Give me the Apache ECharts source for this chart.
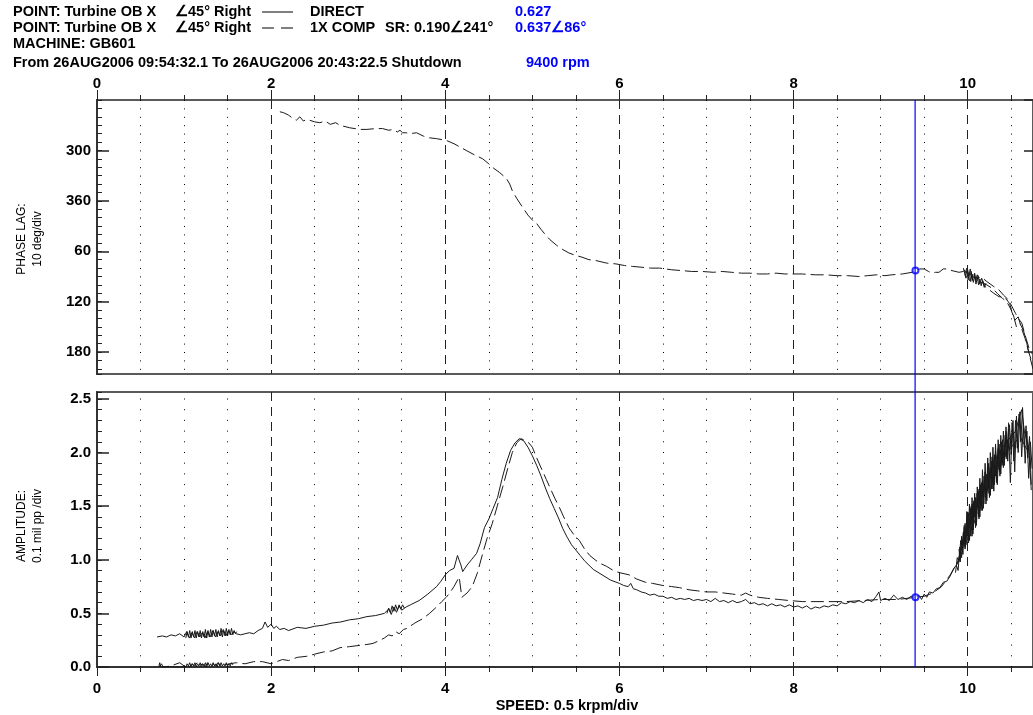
<!DOCTYPE html>
<html><head><meta charset="utf-8">
<script src="https://cdn.jsdelivr.net/npm/echarts@6/dist/echarts.min.js"></script>
<style>html,body{margin:0;padding:0;background:#fff}#c{width:1033px;height:715px}</style>
</head><body><div id="c"></div>
<script>
// ---------- data ----------
const speedMajorTicks = [0, 2, 4, 6, 8, 10];
const speedMinorLines = [0.5,1,1.5,2.5,3,3.5,4.5,5,5.5,6.5,7,7.5,8.5,9,9.5,10.5];
const phaseTickValues = [300, 360, 420, 480, 540];
const phaseTickLabels = ['300', '360', '60', '120', '180'];
const ampTickValues = [0, 0.5, 1.0, 1.5, 2.0, 2.5];
const ampTickLabels = ['0.0', '0.5', '1.0', '1.5', '2.0', '2.5'];

const cursorSpeed = 9.4;
const cursorPhase = 443;
const cursorAmp = 0.65;

// 1X COMP phase lag (deg, unwrapped) vs speed (krpm)
const phaseComp = [
[2.10,254],[2.14,255],[2.20,258],[2.25,262],[2.29,264],[2.33,260],[2.37,265],[2.41,263],[2.50,266],[2.56,267],[2.62,265],[2.68,269],[2.74,267],[2.79,270],[2.90,273],[3.02,275],[3.10,275],[3.20,274],[3.28,274],[3.35,276],[3.40,275],[3.45,278],[3.48,276],[3.51,279],[3.55,279],[3.60,280],[3.67,279],[3.75,283],[3.82,285],[3.90,286],[4.01,288],[4.10,292],[4.17,296],[4.24,300],[4.33,305],[4.43,310],[4.50,316],[4.54,320],[4.62,326],[4.70,333],[4.74,340],[4.77,348],[4.82,357],[4.89,368],[4.95,377],[5.01,384],[5.05,387],[5.10,394],[5.14,399],[5.20,406],[5.28,413],[5.35,418],[5.42,422],[5.50,425],[5.57,427],[5.65,430],[5.73,431],[5.85,434],[5.96,435],[6.06,437],[6.15,438],[6.26,439],[6.36,440],[6.46,440],[6.60,442],[6.72,443],[6.83,444],[6.95,444],[7.08,445],[7.18,444],[7.29,445],[7.40,446],[7.50,446],[7.60,447],[7.70,447],[7.80,446],[7.90,447],[7.98,447],[8.10,447],[8.25,448],[8.37,448],[8.50,449],[8.62,449],[8.75,450],[8.85,449],[8.95,448],[9.05,449],[9.13,448],[9.25,447],[9.36,445],[9.40,443],[9.45,441],[9.50,441],[9.55,444],[9.59,446],[9.63,445],[9.67,445],[9.72,441],[9.76,441],[9.82,443],[9.90,445],[9.95,444],[10.01,446],[10.05,450],[10.10,452],[10.16,451],[10.22,456],[10.30,462],[10.36,466],[10.41,472],[10.47,478],[10.51,486],[10.55,494],[10.58,500],[10.62,505],[10.66,520],[10.70,534],[10.74,542]
];
const phaseBurstA = [
[9.95,440],[9.98,452],[10.00,442],[10.02,455],[10.04,444],[10.06,456],[10.08,446],[10.10,458],[10.12,449],[10.14,460],[10.16,452],[10.20,462],[10.25,466],[10.30,470],[10.36,474],[10.43,475],[10.48,482],[10.53,498],[10.56,510],[10.60,506],[10.64,514],[10.68,530],[10.72,548],[10.75,560]
];
const phaseBurstB = [
[9.97,446],[9.99,440],[10.01,450],[10.03,441],[10.05,452],[10.07,447],[10.09,454],[10.11,448],[10.14,456],[10.18,458],[10.22,460],[10.28,464],[10.34,470],[10.40,476],[10.45,480],[10.50,490],[10.54,502],[10.58,498],[10.62,512],[10.66,524],[10.70,540],[10.74,552]
];
const phaseBurstC = [
[9.96,442],[9.975,450],[9.99,443],[10.005,454],[10.02,445],[10.035,456],[10.05,447],[10.065,457],[10.08,449],[10.095,459],[10.11,451],[10.125,460],[10.14,453],[10.155,461],[10.17,455],[10.19,463],[10.21,458]
];

// DIRECT amplitude (mil pp) vs speed
const ampDirect = [
[0.69,0.28],[0.75,0.29],[0.80,0.28],[0.85,0.30],[0.90,0.29],[0.95,0.31],[1.00,0.28],[1.03,0.33],[1.06,0.27],[1.09,0.32],[1.12,0.27],[1.15,0.33],[1.18,0.28],[1.21,0.32],[1.24,0.27],[1.27,0.33],[1.30,0.28],[1.33,0.34],[1.36,0.28],[1.39,0.33],[1.42,0.29],[1.45,0.35],[1.48,0.29],[1.51,0.34],[1.54,0.30],[1.57,0.33],[1.60,0.31],[1.65,0.30],[1.70,0.31],[1.75,0.32],[1.80,0.31],[1.85,0.34],[1.90,0.36],[1.93,0.42],[1.96,0.37],[2.00,0.40],[2.03,0.36],[2.06,0.38],[2.10,0.35],[2.15,0.36],[2.20,0.34],[2.30,0.37],[2.40,0.36],[2.50,0.38],[2.60,0.39],[2.70,0.41],[2.80,0.42],[2.90,0.44],[3.00,0.45],[3.10,0.47],[3.20,0.48],[3.30,0.50],[3.35,0.54],[3.38,0.49],[3.41,0.56],[3.44,0.51],[3.47,0.57],[3.50,0.53],[3.55,0.56],[3.60,0.58],[3.70,0.62],[3.80,0.68],[3.90,0.75],[3.95,0.80],[4.00,0.86],[4.05,0.90],[4.10,0.92],[4.14,1.04],[4.18,0.95],[4.20,0.89],[4.25,0.95],[4.30,1.00],[4.36,1.06],[4.40,1.15],[4.45,1.30],[4.50,1.38],[4.55,1.48],[4.60,1.58],[4.65,1.75],[4.70,1.90],[4.75,2.02],[4.80,2.09],[4.85,2.13],[4.90,2.11],[4.95,2.05],[5.00,1.97],[5.05,1.88],[5.10,1.78],[5.15,1.67],[5.20,1.57],[5.25,1.48],[5.30,1.39],[5.35,1.29],[5.40,1.21],[5.45,1.14],[5.50,1.09],[5.55,1.04],[5.60,0.99],[5.65,0.95],[5.70,0.91],[5.80,0.86],[5.90,0.81],
[6.00,0.78],[6.05,0.76],[6.10,0.75],[6.13,0.78],[6.16,0.73],[6.20,0.72],[6.25,0.70],[6.30,0.69],[6.35,0.67],[6.40,0.68],[6.45,0.66],[6.50,0.66],[6.55,0.64],[6.60,0.65],[6.65,0.63],[6.70,0.64],[6.75,0.63],[6.80,0.64],[6.85,0.62],[6.90,0.63],[6.95,0.62],[7.00,0.63],[7.05,0.61],[7.10,0.64],[7.15,0.61],[7.20,0.62],[7.25,0.60],[7.30,0.62],[7.35,0.60],[7.40,0.61],[7.45,0.63],[7.50,0.59],[7.55,0.60],[7.60,0.58],[7.65,0.59],[7.70,0.57],[7.75,0.59],[7.80,0.57],[7.85,0.58],[7.90,0.56],[7.95,0.58],[8.00,0.56],[8.05,0.57],[8.10,0.55],[8.15,0.57],[8.20,0.54],[8.25,0.56],[8.30,0.55],[8.35,0.57],[8.40,0.56],[8.45,0.58],[8.50,0.57],[8.55,0.60],[8.60,0.59],[8.65,0.61],[8.70,0.60],[8.75,0.62],[8.80,0.60],[8.85,0.63],[8.90,0.61],[8.95,0.66],[8.98,0.70],[9.00,0.62],[9.05,0.64],[9.10,0.62],[9.15,0.67],[9.20,0.63],[9.25,0.65],[9.30,0.63],[9.35,0.66],[9.40,0.65],
[9.44,0.67],[9.47,0.63],[9.50,0.68],[9.53,0.65],[9.56,0.70],[9.60,0.69],[9.64,0.73],[9.68,0.74],[9.72,0.79],[9.76,0.80],[9.80,0.85],[9.84,0.92],[9.88,0.96],[9.92,1.08],[9.96,1.18],[10.00,1.28],[10.05,1.38],[10.10,1.50],[10.15,1.58],[10.20,1.70],[10.25,1.80],[10.30,1.92],[10.35,1.98],[10.40,2.05],[10.45,2.10],[10.50,2.15],[10.55,2.20],[10.60,2.35],[10.62,2.40],[10.65,2.20],[10.70,2.05],[10.73,1.65]
];
const ampLowBurst = [
[1.02,0.27],[1.035,0.33],[1.05,0.28],[1.065,0.34],[1.08,0.27],[1.095,0.33],[1.11,0.28],[1.125,0.34],[1.14,0.27],[1.155,0.33],[1.17,0.28],[1.185,0.34],[1.20,0.27],[1.215,0.33],[1.23,0.28],[1.245,0.35],[1.26,0.27],[1.275,0.34],[1.29,0.28],[1.305,0.35],[1.32,0.28],[1.335,0.34],[1.35,0.29],[1.365,0.35],[1.38,0.28],[1.395,0.34],[1.41,0.29],[1.425,0.36],[1.44,0.28],[1.455,0.34],[1.47,0.29],[1.485,0.36],[1.50,0.29],[1.515,0.35],[1.53,0.30],[1.545,0.36],[1.56,0.30],[1.575,0.34],[1.59,0.31],[1.605,0.33]
];
const ampMidBurst = [
[3.33,0.50],[3.35,0.55],[3.37,0.51],[3.39,0.57],[3.41,0.52],[3.43,0.58],[3.45,0.53],[3.47,0.58],[3.49,0.54],[3.51,0.58],[3.53,0.55]
];
const ampBurstA = [
[9.86,0.88],[9.88,1.02],[9.90,0.98],[9.92,1.18],[9.94,1.08],[9.96,1.30],[9.98,1.14],[10.00,1.42],[10.02,1.18],[10.04,1.50],[10.06,1.24],[10.08,1.58],[10.10,1.32],[10.12,1.64],[10.14,1.40],[10.16,1.72],[10.18,1.48],[10.20,1.82],[10.22,1.55],[10.24,1.90],[10.26,1.60],[10.28,1.96],[10.30,1.64],[10.32,2.02],[10.34,1.70],[10.36,2.08],[10.38,1.80],[10.40,2.12],[10.42,1.88],[10.44,2.20],[10.46,1.92],[10.48,2.26],[10.50,1.98],[10.52,2.30],[10.54,1.82],[10.56,2.34],[10.58,2.00],[10.60,2.38],[10.62,1.96],[10.64,2.28],[10.66,1.90],[10.68,2.20],[10.70,1.76],[10.72,2.10],[10.74,1.85]
];
const ampBurstB = [
[9.87,0.95],[9.89,0.90],[9.91,1.12],[9.93,1.02],[9.95,1.26],[9.97,1.10],[9.99,1.38],[10.01,1.16],[10.03,1.46],[10.05,1.22],[10.07,1.54],[10.09,1.30],[10.11,1.62],[10.13,1.38],[10.15,1.70],[10.17,1.46],[10.19,1.78],[10.21,1.52],[10.23,1.86],[10.25,1.58],[10.27,1.92],[10.29,1.66],[10.31,1.98],[10.33,1.72],[10.35,2.04],[10.37,1.78],[10.39,2.10],[10.41,1.86],[10.43,2.16],[10.45,1.94],[10.47,2.22],[10.49,1.72],[10.51,2.28],[10.53,1.92],[10.55,2.30],[10.57,2.04],[10.59,2.36],[10.61,2.10],[10.63,2.42],[10.65,2.05],[10.67,2.25],[10.69,1.95],[10.71,2.15],[10.73,1.70]
];
const ampBurstC = [
[9.92,1.05],[9.93,1.20],[9.94,1.10],[9.95,1.24],[9.96,1.15],[9.97,1.34],[9.98,1.20],[9.99,1.40],[10.00,1.25],[10.01,1.44],[10.02,1.30],[10.03,1.48],[10.04,1.33],[10.05,1.52],[10.06,1.36],[10.07,1.55],[10.08,1.40],[10.09,1.58],[10.10,1.44],[10.11,1.62],[10.12,1.48],[10.13,1.66],[10.14,1.52],[10.15,1.70],[10.16,1.55],[10.17,1.74],[10.18,1.58],[10.19,1.78],[10.20,1.62],[10.22,1.80],[10.24,1.68],[10.26,1.86],[10.28,1.72],[10.30,1.90],[10.32,1.78],[10.34,1.98],[10.36,1.84],[10.38,2.02],[10.40,1.90],[10.42,2.06],[10.44,1.96],[10.46,2.12],[10.48,2.02],[10.50,2.18]
];
const ampBurstD = [
[9.90,1.10],[9.915,0.98],[9.93,1.22],[9.945,1.05],[9.96,1.32],[9.975,1.12],[9.99,1.45],[10.005,1.16],[10.02,1.52],[10.035,1.22],[10.05,1.58],[10.065,1.28],[10.08,1.62],[10.095,1.34],[10.11,1.68],[10.125,1.40],[10.14,1.76],[10.155,1.46],[10.17,1.84],[10.185,1.52],[10.20,1.90],[10.215,1.58],[10.23,1.95],[10.245,1.62],[10.26,2.00],[10.275,1.66],[10.29,2.05],[10.305,1.70],[10.32,2.08],[10.335,1.76],[10.35,2.12],[10.365,1.82],[10.38,2.16],[10.395,1.88],[10.41,2.20],[10.425,1.94],[10.44,2.24],[10.455,1.98],[10.47,2.28]
];
// 1X COMP amplitude
const ampComp = [
[0.72,0.00],[0.74,0.03],[0.76,0.00],[0.85,0.01],[0.95,0.04],[1.00,0.01],[1.03,0.03],[1.06,0.00],[1.09,0.03],[1.12,0.01],[1.15,0.04],[1.18,0.01],[1.21,0.03],[1.24,0.00],[1.27,0.04],[1.30,0.01],[1.33,0.03],[1.36,0.01],[1.39,0.04],[1.42,0.01],[1.45,0.03],[1.48,0.02],[1.52,0.03],[1.60,0.04],[1.70,0.03],[1.80,0.05],[1.90,0.05],[2.00,0.03],[2.02,0.02],[2.13,0.07],[2.20,0.06],[2.30,0.09],[2.41,0.10],[2.50,0.12],[2.60,0.14],[2.70,0.15],[2.79,0.18],[2.90,0.19],[3.00,0.20],[3.10,0.21],[3.17,0.22],[3.25,0.25],[3.30,0.27],[3.35,0.30],[3.39,0.29],[3.43,0.33],[3.47,0.31],[3.52,0.35],[3.56,0.36],[3.65,0.41],[3.74,0.45],[3.82,0.50],[3.90,0.56],[3.96,0.61],[4.01,0.65],[4.05,0.69],[4.10,0.75],[4.16,0.84],[4.19,0.65],[4.25,0.69],[4.31,0.75],[4.37,0.88],[4.43,1.06],[4.48,1.20],[4.54,1.34],[4.60,1.51],[4.66,1.68],[4.72,1.86],[4.77,2.00],[4.82,2.09],[4.87,2.13],[4.92,2.11],[4.96,2.09],[5.00,2.05],[5.05,1.95],[5.11,1.84],[5.16,1.75],[5.21,1.66],[5.26,1.57],[5.31,1.49],[5.36,1.40],[5.42,1.30],[5.48,1.23],[5.54,1.18],[5.60,1.10],[5.66,1.04],[5.72,1.00],[5.77,0.97],[5.85,0.94],[5.93,0.90],[6.00,0.88],[6.11,0.86],[6.20,0.82],[6.30,0.79],[6.38,0.78],[6.50,0.76],[6.60,0.75],[6.69,0.74],[6.80,0.72],[6.90,0.71],[7.00,0.70],[7.10,0.70],[7.20,0.69],[7.30,0.68],[7.40,0.67],[7.45,0.69],[7.50,0.67],[7.60,0.65],[7.70,0.64],[7.83,0.63],[7.95,0.62],[8.10,0.61],[8.21,0.61],[8.40,0.61],[8.60,0.61],[8.80,0.62],[9.00,0.63],[9.20,0.63],[9.40,0.65],[9.50,0.66],[9.60,0.69],[9.70,0.75],[9.80,0.86],[9.90,1.00],[10.00,1.20],[10.10,1.40],[10.20,1.60],[10.30,1.80],[10.40,1.95],[10.50,2.05],[10.60,2.15],[10.70,2.00]
];
const ampCompLowBurst = [
[0.71,0.00],[0.72,0.04],[0.73,0.00],[1.02,0.00],[1.035,0.03],[1.05,0.01],[1.065,0.04],[1.08,0.00],[1.095,0.03],[1.11,0.01],[1.125,0.04],[1.14,0.00],[1.155,0.03],[1.17,0.01],[1.185,0.04],[1.20,0.00],[1.215,0.03],[1.23,0.01],[1.245,0.04],[1.26,0.00],[1.275,0.04],[1.29,0.01],[1.305,0.03],[1.32,0.00],[1.335,0.04],[1.35,0.01],[1.365,0.03],[1.38,0.00],[1.395,0.04],[1.41,0.01],[1.425,0.04],[1.44,0.01],[1.455,0.03],[1.47,0.01],[1.485,0.04],[1.50,0.01],[1.515,0.03],[1.53,0.01],[1.545,0.04],[1.56,0.02]
];

// ---------- chart ----------
const FONT = '"Liberation Sans Narrow","Liberation Sans",Arial,sans-serif';
const X_MAX = 10.75, PH_MIN = 240, PH_MAX = 566, AMP_MAX = 2.565;
const GRID_W = 937.4;
const INK = '#1a1a1a';
const BLUE = '#0000ff';

const chart = echarts.init(document.getElementById('c'), null, {renderer: 'canvas'});

const lblStyle = {color: '#000', fontFamily: FONT, fontWeight: 'bold', fontSize: 15};
function speedLabel(v) { const i = speedMajorTicks.indexOf(v); return i >= 0 ? String(speedMajorTicks[i]) : ''; }
function phaseLabel(v) { const i = phaseTickValues.indexOf(v); return i >= 0 ? phaseTickLabels[i] : ''; }
function ampLabel(v) { const i = ampTickValues.findIndex(t => Math.abs(t - v) < 1e-6); return i >= 0 ? ampTickLabels[i] : ''; }

const dashMajor = {show: true, lineStyle: {color: '#222', width: 1, type: [9, 6]}};
function minorMark(dot) {
  return {silent: true, symbol: 'none', label: {show: false}, animation: false,
    lineStyle: {color: '#000', width: 1, type: [1, dot]},
    emphasis: {disabled: true},
    data: speedMinorLines.map(v => ({xAxis: v}))};
}
function lineSeries(name, data, x, y, dashed, extra) {
  return Object.assign({name, type: 'line', xAxisIndex: x, yAxisIndex: y, data, showSymbol: false, symbol: 'none',
    animation: false, silent: true, z: 3,
    lineStyle: {color: INK, width: 1, type: dashed ? [13, 5] : 'solid'}}, extra || {});
}
function cursorDot(x, y, val) {
  return {type: 'scatter', xAxisIndex: x, yAxisIndex: y, data: [[cursorSpeed, val]], symbol: 'emptyCircle', symbolSize: 6,
    itemStyle: {color: BLUE, borderColor: BLUE, borderWidth: 1.5}, z: 15, silent: true, animation: false};
}

const option = {
  backgroundColor: '#fff',
  animation: false,
  grid: [
    {left: 97, top: 100, width: GRID_W, height: 274, show: true, borderColor: '#5a5a5a', borderWidth: 2},
    {left: 97, top: 392, width: GRID_W, height: 275, show: true, borderColor: '#5a5a5a', borderWidth: 2}
  ],
  xAxis: [
    {gridIndex: 0, type: 'value', position: 'top', min: 0, max: X_MAX, interval: 2,
      axisLine: {show: false, onZero: false}, axisTick: {show: true, length: 10, lineStyle: {color: '#222'}},
      axisLabel: Object.assign({show: true, margin: 9, formatter: speedLabel, showMaxLabel: false}, lblStyle),
      splitLine: dashMajor},
    {gridIndex: 0, type: 'value', position: 'top', min: 0, max: X_MAX, interval: 0.5,
      axisLine: {show: false, onZero: false}, axisTick: {show: true, length: 5, lineStyle: {color: '#222'}},
      axisLabel: {show: false}, splitLine: {show: false}},
    {gridIndex: 1, type: 'value', position: 'bottom', min: 0, max: X_MAX, interval: 2,
      axisLine: {show: true, onZero: false, lineStyle: {color: '#333', width: 2}},
      axisTick: {show: true, length: 9, lineStyle: {color: '#222'}},
      axisLabel: Object.assign({show: true, margin: 14, formatter: speedLabel, showMaxLabel: false}, lblStyle),
      splitLine: dashMajor},
    {gridIndex: 1, type: 'value', position: 'bottom', min: 0, max: X_MAX, interval: 0.5,
      axisLine: {show: false, onZero: false}, axisTick: {show: true, length: 5, lineStyle: {color: '#222'}},
      axisLabel: {show: false}, splitLine: {show: false}}
  ],
  yAxis: [
    {gridIndex: 0, type: 'value', position: 'left', inverse: true, min: PH_MIN, max: PH_MAX, interval: 60,
      axisLine: {show: true, onZero: false, lineStyle: {color: '#333', width: 2}},
      axisTick: {show: true, inside: true, length: 12, lineStyle: {color: '#222', width: 1.5}},
      axisLabel: Object.assign({show: true, margin: 6, formatter: phaseLabel, showMinLabel: false, showMaxLabel: false}, lblStyle),
      splitLine: {show: false}},
    {gridIndex: 0, type: 'value', position: 'left', inverse: true, min: PH_MIN, max: PH_MAX, interval: 10,
      axisLine: {show: false, onZero: false}, axisTick: {show: true, inside: true, length: 5, lineStyle: {color: '#222'}},
      axisLabel: {show: false}, splitLine: {show: false}},
    {gridIndex: 0, type: 'value', position: 'right', inverse: true, min: PH_MIN, max: PH_MAX, interval: 60,
      axisLine: {show: false, onZero: false}, axisTick: {show: true, inside: true, length: 9, lineStyle: {color: '#222', width: 1.5}},
      axisLabel: {show: false}, splitLine: {show: false}},
    {gridIndex: 1, type: 'value', position: 'left', min: 0, max: AMP_MAX, interval: 0.5,
      axisLine: {show: true, onZero: false, lineStyle: {color: '#333', width: 2}},
      axisTick: {show: true, inside: true, length: 12, lineStyle: {color: '#222', width: 1.5}},
      axisLabel: Object.assign({show: true, margin: 6, formatter: ampLabel, showMaxLabel: false}, lblStyle),
      splitLine: {show: false}},
    {gridIndex: 1, type: 'value', position: 'left', min: 0, max: AMP_MAX, interval: 0.1,
      axisLine: {show: false, onZero: false}, axisTick: {show: true, inside: true, length: 5, lineStyle: {color: '#222'}},
      axisLabel: {show: false}, splitLine: {show: false}}
  ],
  series: [
    lineSeries('1X COMP phase', phaseComp, 0, 0, true, {markLine: minorMark(7.4)}),
    lineSeries('1X COMP phase b', phaseBurstA, 0, 0, true),
    lineSeries('1X COMP phase c', phaseBurstB, 0, 0, true),
    lineSeries('1X COMP phase d', phaseBurstC, 0, 0, false),
    lineSeries('DIRECT', ampDirect, 2, 3, false, {markLine: minorMark(9.7)}),
    lineSeries('DIRECT low', ampLowBurst, 2, 3, false),
    lineSeries('DIRECT mid', ampMidBurst, 2, 3, false),
    lineSeries('DIRECT b', ampBurstA, 2, 3, false),
    lineSeries('DIRECT c', ampBurstB, 2, 3, false),
    lineSeries('DIRECT d', ampBurstC, 2, 3, false),
    lineSeries('DIRECT e', ampBurstD, 2, 3, false),
    lineSeries('1X COMP', ampComp, 2, 3, true),
    lineSeries('1X COMP low', ampCompLowBurst, 2, 3, false),
    cursorDot(0, 0, cursorPhase),
    cursorDot(2, 3, cursorAmp)
  ]
};

const hdr = {fontFamily: FONT, fontWeight: 'bold', fontSize: 14.5, fill: '#000', verticalAlign: 'middle', align: 'left'};
function txt(id, text, x, y, extra) {
  return {id, type: 'text', x, y, silent: true, z: 20, style: Object.assign({text}, hdr, extra || {})};
}
option.graphic = [
  txt('h1a', 'POINT: Turbine OB X', 13, 12),
  txt('h1b', '\u222045\u00b0 Right', 175, 12),
  {id: 'l1', type: 'line', shape: {x1: 262, y1: 12, x2: 293, y2: 12}, style: {stroke: '#000', lineWidth: 1}, silent: true},
  txt('h1c', 'DIRECT', 310, 12),
  txt('h1d', '0.627', 515, 12, {fill: BLUE}),
  txt('h2a', 'POINT: Turbine OB X', 13, 28),
  txt('h2b', '\u222045\u00b0 Right', 175, 28),
  {id: 'l2', type: 'line', shape: {x1: 262, y1: 28, x2: 293, y2: 28}, style: {stroke: '#000', lineWidth: 1, lineDash: [12, 7]}, silent: true},
  txt('h2c', '1X COMP', 310, 28),
  txt('h2d', 'SR: 0.190\u2220241\u00b0', 385, 28),
  txt('h2e', '0.637\u222086\u00b0', 515, 28, {fill: BLUE}),
  txt('h3a', 'MACHINE: GB601', 13, 44),
  txt('h4a', 'From 26AUG2006 09:54:32.1 To 26AUG2006 20:43:22.5 Shutdown', 13, 63),
  txt('h4b', '9400 rpm', 526, 63, {fill: BLUE}),
  {id: 'yt1', type: 'text', x: 30, y: 239, rotation: Math.PI / 2, silent: true,
    style: {text: 'PHASE LAG:\n10 deg/div', fontFamily: FONT, fontSize: 12, fill: '#000', align: 'center', verticalAlign: 'middle', lineHeight: 16}},
  {id: 'yt2', type: 'text', x: 30, y: 526, rotation: Math.PI / 2, silent: true,
    style: {text: 'AMPLITUDE:\n0.1 mil pp /div', fontFamily: FONT, fontSize: 12, fill: '#000', align: 'center', verticalAlign: 'middle', lineHeight: 16}},
  txt('xt', 'SPEED: 0.5 krpm/div', 567, 706, {align: 'center'})
];
chart.setOption(option);

// blue speed cursor spanning both panels, placed through the library's scales
const cx = chart.convertToPixel({xAxisIndex: 0}, cursorSpeed);
const cyTop = chart.convertToPixel({yAxisIndex: 0}, PH_MIN);
const cyBot = chart.convertToPixel({yAxisIndex: 3}, 0);
chart.setOption({graphic: [{id: 'cursorBar', type: 'rect', z: 30, silent: true,
  shape: {x: Math.round(cx) - 0.5, y: cyTop, width: 1.2, height: cyBot - cyTop},
  style: {fill: BLUE, stroke: null}}]});
</script>
</body></html>
